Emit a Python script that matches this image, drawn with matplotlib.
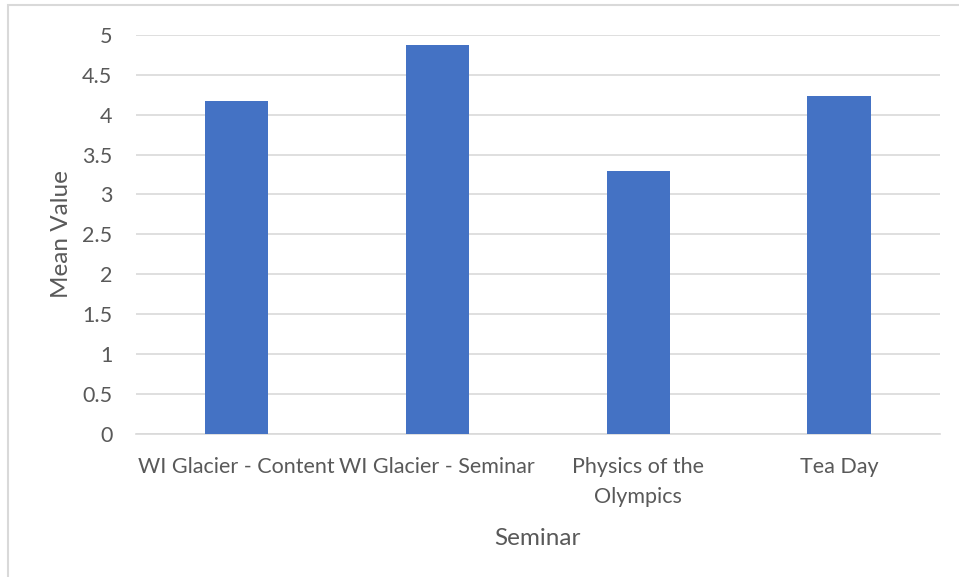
import matplotlib.pyplot as plt
from matplotlib.patches import Rectangle
import numpy as np

seminars = ['WI Glacier - Content', 'WI Glacier - Seminar', 'Physics of the\nOlympics', 'Tea Day']
mean_values = [4.17, 4.87, 3.30, 4.23]

plt.rcParams['font.family'] = ['Lato', 'DejaVu Sans']
text_col = '#595959'
grid_col = '#D9D9D9'

fig = plt.figure(figsize=(9.59, 5.77), dpi=100)
ax = fig.add_axes([0.1418, 0.2487, 0.838, 0.6906])

x = np.arange(len(seminars))
ax.bar(x, mean_values, width=0.316, color='#4472C4', zorder=3)

ax.set_xlim(-0.5, len(seminars) - 0.5)
ax.set_ylim(0, 5)
ax.set_yticks(np.arange(0, 5.01, 0.5))
ax.set_yticklabels(['0', '0.5', '1', '1.5', '2', '2.5', '3', '3.5', '4', '4.5', '5'])
ax.set_xticks(x)
ax.set_xticklabels(seminars, linespacing=1.6)
ax.grid(axis='y', color=grid_col, linewidth=1.2, zorder=0)
ax.tick_params(axis='both', length=0, labelsize=15.5, colors=text_col)
ax.tick_params(axis='y', pad=17)
ax.tick_params(axis='x', pad=17)
for side in ['top', 'right', 'left']:
    ax.spines[side].set_visible(False)
ax.spines['bottom'].set_color(grid_col)
ax.spines['bottom'].set_linewidth(1.2)

ax.set_ylabel('Mean Value', fontsize=17.5, color=text_col, labelpad=7)
ax.set_xlabel('Seminar', fontsize=17.5, color=text_col, labelpad=15)

# chart frame
fig.patches.append(Rectangle((8 / 959, -0.1), 1.2, 1.1 - 5 / 577, transform=fig.transFigure,
                             fill=False, edgecolor=grid_col, linewidth=1.5))

fig.savefig('out.png', dpi=100)
